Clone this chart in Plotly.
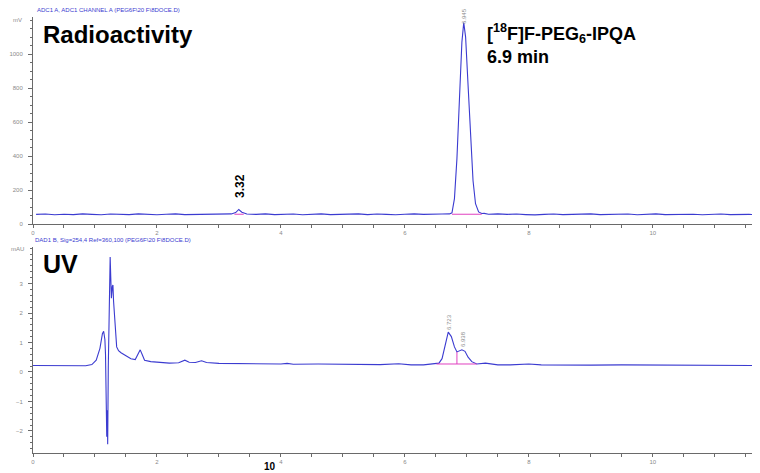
import plotly.graph_objects as go

# ---------------- data ----------------
radio_t = [0.05, 0.2, 0.35, 0.5, 0.65, 0.8, 0.95, 1.1, 1.25, 1.4, 1.55, 1.7, 1.85, 2.0, 2.15, 2.3,
           2.45, 2.6, 2.75, 2.9, 3.05, 3.2, 3.27, 3.32, 3.37, 3.45, 3.6, 3.75, 3.9, 4.05, 4.2, 4.35,
           4.5, 4.65, 4.8, 4.95, 5.1, 5.25, 5.4, 5.55, 5.7, 5.85, 6.0, 6.15, 6.3, 6.45, 6.6, 6.72,
           6.76, 6.80, 6.84, 6.88, 6.92, 6.95, 6.98, 7.02, 7.06, 7.10, 7.14, 7.19, 7.24, 7.28, 7.35,
           7.5, 7.65, 7.8, 7.95, 8.1, 8.25, 8.4, 8.55, 8.7, 8.85, 9.0, 9.15, 9.3, 9.45, 9.6, 9.75,
           9.9, 10.05, 10.2, 10.35, 10.5, 10.65, 10.8, 10.95, 11.1, 11.25, 11.4, 11.55, 11.75]
radio_v = [57, 59, 55, 58, 56, 60, 57, 55, 59, 58, 56, 60, 57, 55, 58, 60,
           56, 57, 59, 56, 58, 60, 68, 86, 70, 59, 57, 60, 56, 58, 59, 55,
           57, 60, 56, 58, 57, 60, 56, 59, 57, 55, 58, 60, 57, 56, 59, 60,
           66, 150, 385, 730, 1070, 1185, 1100, 815, 490, 255, 120, 72, 62, 63, 58,
           60, 57, 59, 56, 54, 57, 59, 56, 58, 57, 60, 56, 58, 57, 59, 55,
           58, 60, 56, 57, 59, 58, 55, 57, 59, 56, 58, 57, 56]

uv_t = [0.0, 0.3, 0.6, 0.85, 0.95, 1.02, 1.08, 1.12, 1.14, 1.16, 1.17, 1.19, 1.20, 1.205, 1.215,
        1.23, 1.245, 1.255, 1.265, 1.28, 1.29, 1.30, 1.32, 1.35, 1.38, 1.42, 1.5, 1.58, 1.65, 1.70,
        1.73, 1.76, 1.8, 1.9, 2.0, 2.2, 2.35, 2.45, 2.52, 2.62, 2.72, 2.8, 3.0, 3.3, 3.6, 4.0, 4.1,
        4.2, 4.6, 5.0, 5.3, 5.6, 5.9, 6.1, 6.3, 6.45, 6.5, 6.55, 6.6, 6.65, 6.70, 6.75, 6.8, 6.84,
        6.88, 6.92, 6.97, 7.02, 7.08, 7.16, 7.3, 7.4, 7.5, 7.7, 7.9, 8.0, 8.2, 8.5, 9.0, 9.5, 10.0,
        10.5, 11.0, 11.5, 11.75]
uv_v = [0.22, 0.21, 0.20, 0.21, 0.25, 0.40, 0.80, 1.30, 1.38, 1.10, 0.60, -2.20, -1.30, -2.45, 0.20,
        3.00, 3.90, 3.20, 2.50, 2.90, 2.95, 2.40, 1.60, 0.85, 0.72, 0.65, 0.55, 0.45, 0.42, 0.60,
        0.75, 0.60, 0.40, 0.35, 0.33, 0.30, 0.31, 0.40, 0.33, 0.32, 0.38, 0.32, 0.29, 0.28, 0.27, 0.27, 0.29,
        0.26, 0.27, 0.26, 0.26, 0.25, 0.28, 0.24, 0.24, 0.27, 0.27, 0.30, 0.45, 0.90, 1.35, 1.20, 0.85, 0.68,
        0.72, 0.75, 0.70, 0.50, 0.35, 0.27, 0.30, 0.26, 0.24, 0.24, 0.26, 0.27, 0.24, 0.23, 0.23, 0.24, 0.23,
        0.22, 0.23, 0.22, 0.22]

# integration baselines (time, level)
radio_base_t = [6.76, 7.24]
radio_base_v = [58, 58]
radio_small_base_t = [3.25, 3.40]
radio_small_base_v = [58, 58]
uv_base_t = [6.51, 7.16]
uv_base_v = [0.27, 0.27]
uv_split_t = [6.84, 6.84]
uv_split_v = [0.27, 0.68]

radio_ticks = [0, 200, 400, 600, 800, 1000]
uv_ticks = [-2, -1, 0, 1, 2, 3]
time_ticks = [0, 2, 4, 6, 8, 10, 12]

LINE = "#3b3bd0"
PINK = "#e040c0"
AX = "#6a6a6a"
TICKF = dict(family="Liberation Sans", size=6, color="#8a8a8a")

fig = go.Figure()
fig.add_trace(go.Scatter(x=radio_t, y=radio_v, mode="lines", line=dict(color=LINE, width=1.1),
                         xaxis="x", yaxis="y", showlegend=False))
fig.add_trace(go.Scatter(x=radio_base_t, y=radio_base_v, mode="lines", line=dict(color=PINK, width=1),
                         xaxis="x", yaxis="y", showlegend=False))
fig.add_trace(go.Scatter(x=radio_small_base_t, y=radio_small_base_v, mode="lines", line=dict(color=PINK, width=1),
                         xaxis="x", yaxis="y", showlegend=False))
fig.add_trace(go.Scatter(x=uv_t, y=uv_v, mode="lines", line=dict(color=LINE, width=1.1),
                         xaxis="x2", yaxis="y2", showlegend=False))
fig.add_trace(go.Scatter(x=uv_base_t, y=uv_base_v, mode="lines", line=dict(color=PINK, width=1),
                         xaxis="x2", yaxis="y2", showlegend=False))
fig.add_trace(go.Scatter(x=uv_split_t, y=uv_split_v, mode="lines", line=dict(color=PINK, width=1),
                         xaxis="x2", yaxis="y2", showlegend=False))

xcommon = dict(range=[0, 11.73], showline=True, linecolor=AX, linewidth=1, ticks="outside",
               ticklen=3, tickcolor=AX, tickvals=time_ticks, tickfont=TICKF, showgrid=False,
               zeroline=False, automargin=False,
               minor=dict(dtick=0.5, ticks="outside", ticklen=3, tickcolor=AX))
ycommon = dict(showline=True, linecolor=AX, linewidth=1, ticks="outside", ticklen=4, tickcolor=AX,
               tickfont=TICKF, showgrid=False, zeroline=False, ticklabelstandoff=4, automargin=False)

# the page body has an 8px default margin: figure sized so plot area lands at page x 33..760, y 17..453
fig.update_layout(
    width=752, height=465,
    margin=dict(l=25, r=0, t=9, b=20, autoexpand=False),
    paper_bgcolor="white", plot_bgcolor="white",
    xaxis=dict(domain=[0, 1], anchor="y", **xcommon),
    yaxis=dict(domain=[0.525, 1], anchor="x", range=[0, 1218], tickvals=radio_ticks,
               minor=dict(dtick=50, ticks="outside", ticklen=2, tickcolor=AX), **ycommon),
    xaxis2=dict(domain=[0, 1], anchor="y2", **xcommon),
    yaxis2=dict(domain=[0, 0.4725], anchor="x2", range=[-2.75, 4.24], tickvals=uv_ticks,
                minor=dict(dtick=0.2, ticks="outside", ticklen=2, tickcolor=AX), **ycommon),
)

# annotation positions given in page pixels, converted to paper coordinates below
ann = []
hdr = dict(family="Liberation Sans", size=6, color="#3b3bd0")
ann.append(dict(text="ADC1 A, ADC1 CHANNEL A (PEG6F\\20 F\\8DOCE.D)", x=35, y=10, showarrow=False,
                font=hdr, xanchor="left"))
ann.append(dict(text="DAD1 B, Sig=254,4 Ref=360,100 (PEG6F\\20 F\\8DOCE.D)", x=33, y=240, font=hdr,
                showarrow=False, xanchor="left"))
ann.append(dict(text="mV", x=17, y=20, showarrow=False, font=TICKF))
ann.append(dict(text="mAU", x=17, y=249, showarrow=False, font=TICKF))
big = dict(family="Liberation Sans", color="black")
ann.append(dict(text="<b>Radioactivity</b>", x=41, y=35, showarrow=False, font=dict(size=24, **big), xanchor="left"))
ann.append(dict(text="<b>UV</b>", x=41, y=264, showarrow=False, font=dict(size=25, **big), xanchor="left"))
ann.append(dict(text="<b>[<sup>18</sup>F]F-PEG<sub>6</sub>-IPQA<br>6.9 min</b>", x=485, y=44, showarrow=False,
                font=dict(size=18, **big), xanchor="left", align="left"))
ann.append(dict(text="<b>3.32</b>", x=240, y=186, showarrow=False, textangle=-90, font=dict(size=12, **big)))
ann.append(dict(text="<b>10</b>", x=270, y=467, showarrow=False, font=dict(size=10, **big)))
small = dict(family="Liberation Sans", size=6, color="#8a8a8a")
ann.append(dict(text="6.945", x=464, y=16, showarrow=False, textangle=-90, font=small))
ann.append(dict(text="6.723", x=449, y=322, showarrow=False, textangle=-90, font=small))
ann.append(dict(text="6.938", x=463, y=339, showarrow=False, textangle=-90, font=small))

W0, W1, H0, H1 = 33, 760, 17, 453
for a in ann:
    a["x"] = (a["x"] - W0) / (W1 - W0)
    a["y"] = (H1 - a["y"]) / (H1 - H0)
    a["xref"] = "paper"
    a["yref"] = "paper"
    a.setdefault("xanchor", "center")
    a.setdefault("yanchor", "middle")
fig.update_layout(annotations=ann)

fig.write_html("out.html")
